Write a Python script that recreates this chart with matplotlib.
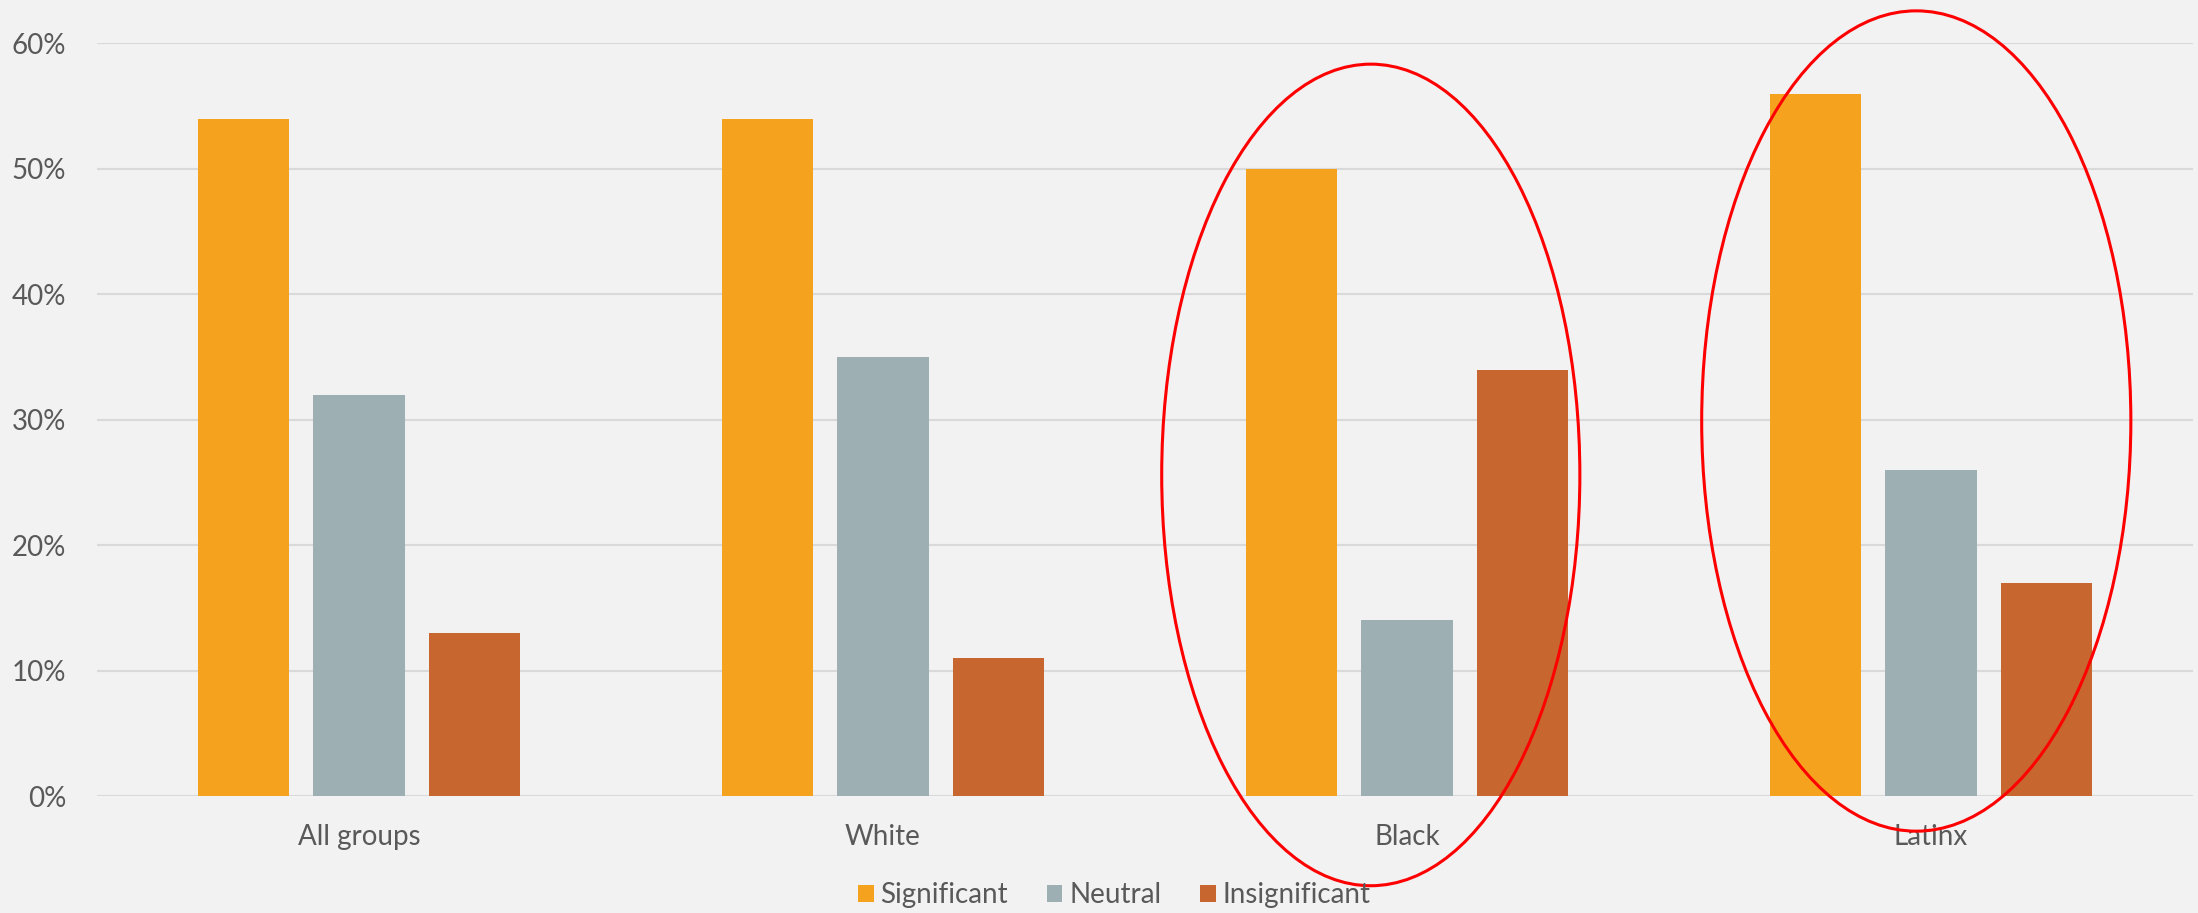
import numpy as np
import matplotlib.pyplot as plt
from matplotlib.patches import Ellipse

plt.rcParams['font.family'] = ['Lato', 'DejaVu Sans']

groups = ['All groups', 'White', 'Black', 'Latinx']
significant = [54, 54, 50, 56]
neutral = [32, 35, 14, 26]
insignificant = [13, 11, 34, 17]
series_names = ['Significant', 'Neutral', 'Insignificant']
colors = ['#F5A31E', '#9EAFB4', '#C86630']
yticks = [0, 10, 20, 30, 40, 50, 60]

bg = '#F2F2F2'
txt = '#595959'

fig = plt.figure(figsize=(21.98, 9.13), dpi=100, facecolor=bg)
ax = fig.add_axes([0.0441, 0.1281, 0.9536, 0.8243])
ax.set_facecolor(bg)

x = np.arange(len(groups))
w = 0.174
step = 0.221
data = [significant, neutral, insignificant]
for i in range(3):
    ax.bar(x + (i - 1) * step, data[i], w, color=colors[i], label=series_names[i], zorder=3)

ax.set_xlim(-0.5, len(groups) - 0.5)
ax.set_ylim(0, 60)
ax.set_yticks(yticks)
ax.set_yticklabels(['%d%%' % v for v in yticks])
ax.set_xticks(x)
ax.set_xticklabels(groups)
ax.tick_params(axis='both', length=0, labelsize=20, colors=txt)
ax.tick_params(axis='x', pad=20)
ax.tick_params(axis='y', pad=22)
ax.grid(axis='y', color='#D9D9D9', linewidth=1.5, zorder=0)
for s in ax.spines.values():
    s.set_visible(False)

# red highlight ellipses
ax.add_patch(Ellipse((1.931, 25.6), 0.798, 65.5, fill=False, edgecolor='#FF0000',
                     linewidth=2.2, clip_on=False, zorder=5))
ax.add_patch(Ellipse((2.972, 29.9), 0.819, 65.4, fill=False, edgecolor='#FF0000',
                     linewidth=2.2, clip_on=False, zorder=5))

fig.legend(loc='lower center', bbox_to_anchor=(0.507, -0.022), ncol=3, frameon=False,
           fontsize=20, labelcolor=txt, handlelength=0.55, handleheight=0.55,
           handletextpad=0.25, columnspacing=1.4)

fig.savefig('out.png', dpi=100, facecolor=bg)
